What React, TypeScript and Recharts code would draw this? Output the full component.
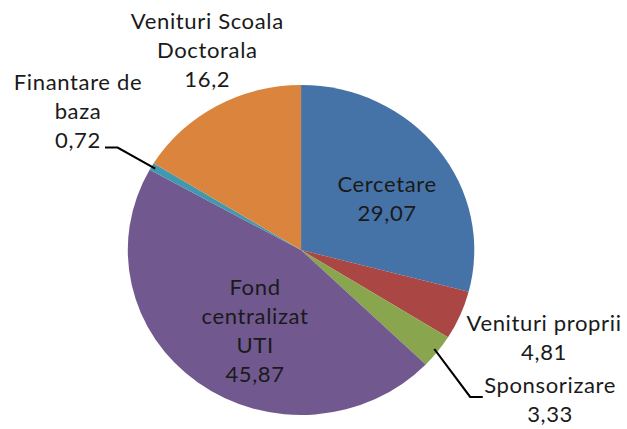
import { PieChart, Pie, Cell } from 'recharts';

const categories = [
  'Cercetare',
  'Venituri proprii',
  'Sponsorizare',
  'Fond centralizat UTI',
  'Finantare de baza',
  'Venituri Scoala Doctorala',
];
const values = [29.07, 4.81, 3.33, 45.87, 0.72, 16.2];
const labelLines = [
  ['Cercetare'],
  ['Venituri proprii'],
  ['Sponsorizare'],
  ['Fond', 'centralizat', 'UTI'],
  ['Finantare de', 'baza'],
  ['Venituri Scoala', 'Doctorala'],
];

const colors = ['#4572A7', '#AA4643', '#89A54E', '#71588F', '#4198AF', '#DB843D'];

// label placement: distance from centre, angle shift from slice middle, vertical nudge,
// leader elbow radius / angle shift / horizontal tail
const placement = [
  { r: 96.5, da: -5.8, dy: 0, leader: 0, ea: 0, tail: 0 },
  { r: 247.6, da: 2.5, dy: 0, leader: 0, ea: 0, tail: 0 },
  { r: 282.7, da: 5, dy: -4, leader: 218, ea: -4.4, tail: 12 },
  { r: 92, da: 8.1, dy: 0, leader: 0, ea: 0, tail: 0 },
  { r: 253.8, da: -2.8, dy: 0, leader: 202.5, ea: 0, tail: -12 },
  { r: 219, da: -5.1, dy: 0, leader: 0, ea: 0, tail: 0 },
];

const data = categories.map((name, i) => ({ name, value: values[i] }));

const RAD = Math.PI / 180;
const LINE_H = 29;
const STRETCH = 1.05; // the original picture is a bit wider than tall

const polar = (cx: number, cy: number, r: number, a: number) => ({
  x: cx + r * Math.cos(-a * RAD),
  y: cy + r * Math.sin(-a * RAD),
});

function renderLabel(props: any) {
  const { cx, cy, midAngle, outerRadius, index, value } = props;
  const p = placement[index];
  const pos = polar(cx, cy, p.r, midAngle + p.da);
  const lines = [...labelLines[index], String(value).replace('.', ',')];
  const top = pos.y + p.dy - ((lines.length - 1) * LINE_H) / 2;

  let leader = null;
  if (p.leader) {
    const start = polar(cx, cy, outerRadius - 4, midAngle);
    const elbow = polar(cx, cy, p.leader, midAngle + p.ea);
    leader = (
      <polyline
        points={`${start.x},${start.y} ${elbow.x},${elbow.y} ${elbow.x + p.tail},${elbow.y}`}
        fill="none"
        stroke="#000"
        strokeWidth={2}
      />
    );
  }

  return (
    <g key={`lbl-${index}`}>
      {leader}
      <text
        x={pos.x}
        textAnchor="middle"
        dominantBaseline="central"
        fill="#1a1a1a"
        style={{ fontFamily: 'Lato, "Noto Sans", sans-serif', fontSize: 21, letterSpacing: 0.6 }}
      >
        {lines.map((line, j) => (
          <tspan key={j} x={pos.x} y={top + j * LINE_H}>
            {line}
          </tspan>
        ))}
      </text>
    </g>
  );
}

export default function App() {
  return (
    <div
      style={{
        position: 'absolute',
        left: 0,
        top: 0,
        width: 597,
        height: 429,
        background: '#fff',
        transform: `scaleX(${STRETCH})`,
        transformOrigin: '0 0',
      }}
    >
      <PieChart width={597} height={429} margin={{ top: 0, right: 0, bottom: 0, left: 0 }}>
        <Pie
          data={data}
          dataKey="value"
          nameKey="name"
          cx={286.7}
          cy={250}
          outerRadius={165}
          startAngle={90}
          endAngle={-270}
          stroke="none"
          label={renderLabel}
          labelLine={false}
          isAnimationActive={false}
        >
          {data.map((d, i) => (
            <Cell key={d.name} fill={colors[i]} />
          ))}
        </Pie>
      </PieChart>
    </div>
  );
}
